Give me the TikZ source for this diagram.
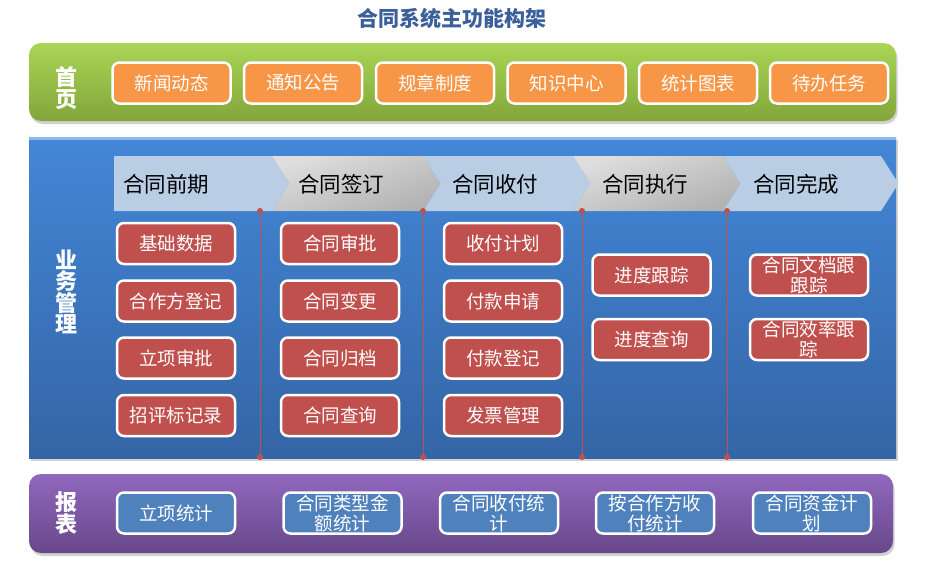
\documentclass[tikz,border=0pt]{standalone}
\usepackage{fontspec}
\setmainfont{Noto Sans CJK SC}
\usetikzlibrary{shadows}
\definecolor{titleblue}{HTML}{3A5F9A}
\definecolor{greentop}{HTML}{AAD556}
\definecolor{greenbot}{HTML}{82A63A}
\definecolor{bluetop}{HTML}{4387D7}
\definecolor{bluebot}{HTML}{3465A6}
\definecolor{bluehi}{HTML}{8CBAF0}
\definecolor{purpletop}{HTML}{9068BE}
\definecolor{purplebot}{HTML}{684789}
\definecolor{orangebox}{HTML}{F79646}
\definecolor{redbox}{HTML}{C0504D}
\definecolor{bluebox}{HTML}{4F81BD}
\definecolor{chevblue}{HTML}{B9CDE5}
\definecolor{chevgreytop}{HTML}{DEDEDE}
\definecolor{chevgreybot}{HTML}{B2B2B2}
\definecolor{divred}{HTML}{C0504D}
\begin{document}
\begin{tikzpicture}[x=1pt,y=-1pt,
  bandshadow/.style={drop shadow={shadow xshift=1.5pt,shadow yshift=-3pt,opacity=0.3,fill=black!60}},
  boxbase/.style={draw=white,line width=2.5pt,rounded corners=7pt,minimum width=118pt,minimum height=41pt,
    inner sep=0pt,align=center,text=white,font=\fontsize{18.5}{20}\selectfont,
    drop shadow={shadow xshift=1pt,shadow yshift=-1.5pt,opacity=0.3}},
  obox/.style={boxbase,fill=orangebox},
  rbox/.style={boxbase,fill=redbox},
  bbox/.style={boxbase,fill=bluebox},
  vlabel/.style={text=white,font=\bfseries\fontsize{22}{21.5}\selectfont,align=center,inner sep=0pt},
  chevtext/.style={anchor=west,text=black,font=\fontsize{21.5}{23}\selectfont,inner sep=0pt},
  chevb/.style={fill=chevblue},
  chevg/.style={top color=chevgreytop,bottom color=chevgreybot,shading angle=20},
  divider/.style={draw=divred,line width=0.8pt},
  dot/.style={fill=divred}
]
\useasboundingbox (0,0) rectangle (935,581);

% title
\node[text=titleblue,font=\bfseries\fontsize{21}{24}\selectfont] (title) at (452,18) {合同系统主功能构架};

% bands
\path[bandshadow,rounded corners=12pt,top color=greentop,bottom color=greenbot]
  (29,43) rectangle (896,121);
\path[bandshadow,top color=bluetop,bottom color=bluebot] (29,137) rectangle (896,458);
\fill[bluehi] (29,137) rectangle (896,140);
\path[bandshadow,rounded corners=12pt,top color=purpletop,bottom color=purplebot]
  (29,474) rectangle (893,553);

% vertical labels
\node[vlabel] (home) at (66,88) {首\\页};
\node[vlabel] (biz) at (66,292) {业\\务\\管\\理};
\node[vlabel] (rep) at (66,513) {报\\表};

% home boxes
\node[obox] (h1) at (171.5,83) {新闻动态};
\node[obox] (h2) at (303,83) {通知公告};
\node[obox] (h3) at (435,83) {规章制度};
\node[obox] (h4) at (566.5,83) {知识中心};
\node[obox] (h5) at (698,83) {统计图表};
\node[obox] (h6) at (829,83) {待办任务};

% chevrons
\path[chevb] (114,156) -- (272,156) -- (289.5,183.5) -- (272,211) -- (114,211) -- cycle;
\path[chevg] (272,156) -- (423,156) -- (440.5,183.5) -- (423,211) -- (272,211) -- (289.5,183.5) -- cycle;
\path[chevb] (423,156) -- (573,156) -- (590.5,183.5) -- (573,211) -- (423,211) -- (440.5,183.5) -- cycle;
\path[chevg] (573,156) -- (723,156) -- (740.5,183.5) -- (723,211) -- (573,211) -- (590.5,183.5) -- cycle;
\path[chevb] (723,156) -- (881,156) -- (898.5,183.5) -- (881,211) -- (723,211) -- (740.5,183.5) -- cycle;
\node[chevtext] (c1) at (123,184) {合同前期};
\node[chevtext] (c2) at (298,184) {合同签订};
\node[chevtext] (c3) at (452,184) {合同收付};
\node[chevtext] (c4) at (602,184) {合同执行};
\node[chevtext] (c5) at (753,184) {合同完成};

% dividers
\foreach \i/\x in {1/260,2/423,3/582,4/727}{
  \coordinate (d\i t) at (\x,211);
  \coordinate (d\i b) at (\x,457);
  \draw[divider] (d\i t) -- (d\i b);
  \fill[dot] (d\i t) circle[radius=3pt];
  \fill[dot] (d\i b) circle[radius=3pt];
}

% business boxes column 1
\node[rbox] (a1) at (176,243.5) {基础数据};
\node[rbox] (a2) at (176,301) {合作方登记};
\node[rbox] (a3) at (176,358) {立项审批};
\node[rbox] (a4) at (176,415.5) {招评标记录};
% column 2
\node[rbox] (b1) at (340,243.5) {合同审批};
\node[rbox] (b2) at (340,301) {合同变更};
\node[rbox] (b3) at (340,358) {合同归档};
\node[rbox] (b4) at (340,415.5) {合同查询};
% column 3
\node[rbox] (e1) at (503,243.5) {收付计划};
\node[rbox] (e2) at (503,301) {付款申请};
\node[rbox] (e3) at (503,358) {付款登记};
\node[rbox] (e4) at (503,415.5) {发票管理};
% column 4
\node[rbox] (f1) at (651.5,275) {进度跟踪};
\node[rbox] (f2) at (651.5,339.5) {进度查询};
% column 5
\node[rbox] (g1) at (809,275) {合同文档跟\\跟踪};
\node[rbox] (g2) at (809,339.5) {合同效率跟\\踪};

% report boxes
\node[bbox] (r1) at (176,513) {立项统计};
\node[bbox] (r2) at (342.5,513) {合同类型金\\额统计};
\node[bbox] (r3) at (499,513) {合同收付统\\计};
\node[bbox] (r4) at (655,513) {按合作方收\\付统计};
\node[bbox] (r5) at (812,513) {合同资金计\\划};
\end{tikzpicture}
\end{document}
